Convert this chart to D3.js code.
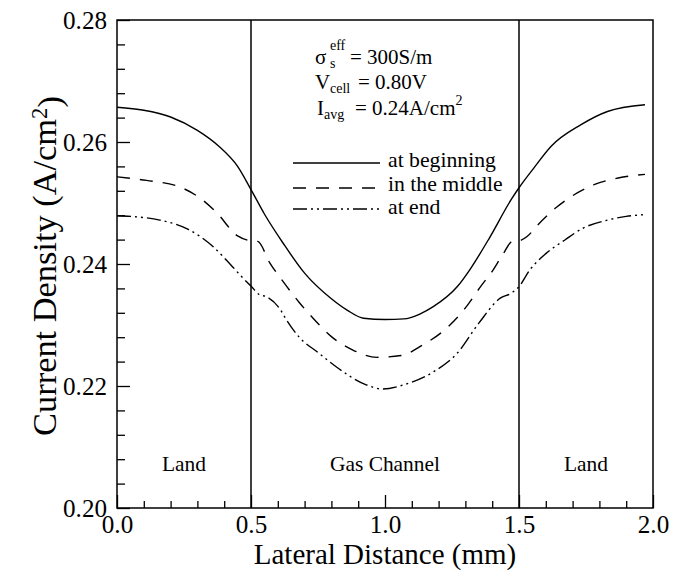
<!DOCTYPE html>
<html>
<head>
<meta charset="utf-8">
<script src="https://cdn.jsdelivr.net/npm/d3@7/dist/d3.min.js"></script>
<style>
  html, body { margin: 0; padding: 0; background: #fff; }
  svg { display: block; }
  svg text { font-family: "Liberation Serif", "Noto Serif", "DejaVu Serif", FreeSerif, Tinos, "Times New Roman", serif !important; fill: #000; }
</style>
</head>
<body>
<svg id="chart" width="675" height="571"></svg>
<script>
// ---- data ----
const seriesNames = ["at beginning", "in the middle", "at end"];

const beginX = [0.00,0.10,0.20,0.30,0.38,0.45,0.50,0.55,0.62,0.70,0.80,0.86,0.92,1.00,1.07,1.13,1.18,1.27,1.32,1.39,1.47,1.50,1.56,1.62,1.73,1.83,1.97];
const beginY = [0.2657,0.2652,0.2641,0.2619,0.2593,0.2560,0.2522,0.2482,0.2434,0.2385,0.2343,0.2324,0.2311,0.2309,0.2310,0.2318,0.2330,0.2363,0.2393,0.2443,0.2505,0.2525,0.2560,0.2593,0.2628,0.2650,0.2661];

const middleX = [0.00,0.11,0.23,0.31,0.37,0.45,0.50,0.525,0.57,0.62,0.68,0.73,0.80,0.88,0.97,1.06,1.14,1.23,1.30,1.36,1.40,1.44,1.475,1.50,1.53,1.57,1.64,1.70,1.78,1.87,1.97];
const middleY = [0.2543,0.2537,0.2527,0.2508,0.2485,0.2446,0.2438,0.2437,0.2402,0.2371,0.2337,0.2312,0.2281,0.2259,0.2247,0.2250,0.2267,0.2295,0.2328,0.2365,0.2388,0.2416,0.2437,0.2438,0.2445,0.2464,0.2493,0.2512,0.2530,0.2541,0.2547];

const endX = [0.00,0.05,0.16,0.26,0.36,0.43,0.49,0.50,0.53,0.56,0.61,0.63,0.68,0.75,0.81,0.93,0.99,1.07,1.18,1.27,1.35,1.43,1.47,1.50,1.54,1.60,1.67,1.74,1.83,1.90,1.97];
const endY = [0.2479,0.2478,0.2472,0.2458,0.2428,0.2396,0.2368,0.2364,0.2350,0.2346,0.2325,0.2310,0.2280,0.2255,0.2234,0.2202,0.2195,0.2202,0.2223,0.2254,0.2303,0.2344,0.2352,0.2363,0.2390,0.2417,0.2439,0.2459,0.2472,0.2478,0.2481];

const xTicks = [0.0, 0.5, 1.0, 1.5, 2.0];
const yTicks = [0.20, 0.22, 0.24, 0.26, 0.28];
const dividers = [0.5, 1.5];
const regionLabels = ["Land", "Gas Channel", "Land"];
const regionCenters = [0.25, 1.0, 1.75];

// ---- layout ----
const L = 117, R = 653, T = 20, B = 508;
const svg = d3.select("#chart");
const x = d3.scaleLinear().domain([0, 2]).range([L, R]);
const y = d3.scaleLinear().domain([0.20, 0.28]).range([B, T]);

// size a text so its advance width matches the width measured on the reference
function fitSize(sel, target, base) {
  sel.style("font-size", base + "px");
  const w = sel.node().getComputedTextLength();
  const s = w > 0 ? base * target / w : base;
  return Math.min(s, base * 1.3);
}

const xMinor = d3.range(0, 2.0001, 0.1).map(v => +v.toFixed(2)).filter(v => !xTicks.includes(v));
const yMinor = d3.range(0.20, 0.28001, 0.004).map(v => +v.toFixed(3)).filter(v => !yTicks.some(t => Math.abs(t - v) < 1e-6));

// frame
svg.append("rect").attr("x", L).attr("y", T).attr("width", R - L).attr("height", B - T)
  .attr("fill", "none").attr("stroke", "#000").attr("stroke-width", 1.5);

// axes
function styleAxis(g) {
  g.attr("font-family", null).attr("font-size", null);
  g.select(".domain").remove();
  g.selectAll(".tick line").attr("stroke", "#000").attr("stroke-width", 1.3);
}
svg.append("g").attr("transform", `translate(${L},0)`)
  .call(d3.axisLeft(y).tickValues(yMinor).tickSize(-8).tickFormat(""))
  .call(styleAxis);
const yAx = svg.append("g").attr("transform", `translate(${L},0)`)
  .call(d3.axisLeft(y).tickValues(yTicks).tickSize(-13).tickPadding(10).tickFormat(d3.format(".2f")))
  .call(styleAxis);
const yTickSize = fitSize(yAx.select(".tick text"), 44, 24);
yAx.selectAll("text").style("font-size", yTickSize + "px");

svg.append("g").attr("transform", `translate(0,${B})`)
  .call(d3.axisBottom(x).tickValues(xMinor).tickSize(-7).tickFormat(""))
  .call(styleAxis);
const xAx = svg.append("g").attr("transform", `translate(0,${B})`)
  .call(d3.axisBottom(x).tickValues(xTicks).tickSize(-13).tickPadding(7).tickFormat(d3.format(".1f")))
  .call(styleAxis);
xAx.selectAll("text").style("font-size", yTickSize + "px");

// divider lines
svg.selectAll(".divider").data(dividers).join("line")
  .attr("x1", d => x(d)).attr("x2", d => x(d)).attr("y1", T).attr("y2", B)
  .attr("stroke", "#000").attr("stroke-width", 1.5);

// curves
const series = [
  { name: seriesNames[0], xs: beginX, ys: beginY, dash: null },
  { name: seriesNames[1], xs: middleX, ys: middleY, dash: "13,10" },
  { name: seriesNames[2], xs: endX, ys: endY, dash: "14,4,2,4,2,4" }
];
const line = d3.line().x(d => x(d[0])).y(d => y(d[1])).curve(d3.curveMonotoneX);
series.forEach(s => {
  svg.append("path").datum(s.xs.map((v, i) => [v, s.ys[i]]))
    .attr("d", line).attr("fill", "none").attr("stroke", "#000")
    .attr("stroke-width", 1.4).attr("stroke-dasharray", s.dash);
});

// legend
const legY = [163, 188, 209];
const legTextY = [167, 191, 214];
const legTexts = [];
series.forEach((s, i) => {
  svg.append("line").attr("x1", 293).attr("x2", 380).attr("y1", legY[i]).attr("y2", legY[i])
    .attr("stroke", "#000").attr("stroke-width", 1.4).attr("stroke-dasharray", s.dash);
  legTexts.push(svg.append("text").attr("x", 388).attr("y", legTextY[i]).text(s.name));
});
const legSize = fitSize(legTexts[0], 108, 22);
legTexts.forEach(t => t.style("font-size", legSize + "px"));

// annotations
const ann = svg.append("g");
const a1 = ann.append("text").attr("x", 350).attr("y", 64).text("= 300S/m");
const annSize = Math.min(fitSize(a1, 93, 22), 21);
const subSize = 14;
a1.style("font-size", annSize + "px");
ann.append("text").attr("x", 315).attr("y", 64).style("font-size", annSize + "px").text("σ");
ann.append("text").attr("x", 330).attr("y", 50).style("font-size", subSize + "px").text("eff");
ann.append("text").attr("x", 330).attr("y", 68).style("font-size", subSize + "px").text("s");

ann.append("text").attr("x", 315).attr("y", 89).style("font-size", annSize + "px").text("V");
ann.append("text").attr("x", 330).attr("y", 93).style("font-size", subSize + "px").text("cell");
ann.append("text").attr("x", 358).attr("y", 89).style("font-size", annSize + "px").text("= 0.80V");

ann.append("text").attr("x", 317).attr("y", 115).style("font-size", annSize + "px").text("I");
ann.append("text").attr("x", 324).attr("y", 119).style("font-size", subSize + "px").text("avg");
const t3 = ann.append("text").attr("x", 355).attr("y", 115).style("font-size", annSize + "px");
t3.append("tspan").text("= 0.24A/cm");
t3.append("tspan").attr("dy", -10).style("font-size", subSize + "px").text("2");

// region labels
const regs = svg.selectAll(".region").data(regionLabels).join("text")
  .attr("class", "region")
  .attr("x", (d, i) => x(regionCenters[i])).attr("y", 471)
  .attr("text-anchor", "middle").text(d => d);
const regSize = fitSize(d3.select(regs.nodes()[0]), 44, 21);
regs.style("font-size", regSize + "px");

// axis titles
const xt = svg.append("text").attr("x", (L + R) / 2).attr("y", 564).attr("text-anchor", "middle")
  .text("Lateral Distance (mm)");
xt.style("font-size", Math.min(fitSize(xt, 288, 30), 29) + "px");

const yt = svg.append("text").attr("transform", `translate(56,${(T + B) / 2 + 2}) rotate(-90)`)
  .attr("text-anchor", "middle");
yt.append("tspan").text("Current Density (A/cm");
yt.append("tspan").attr("dy", "-0.4em").style("font-size", "0.66em").text("2");
yt.append("tspan").attr("dy", "0.4em").text(")");
yt.style("font-size", fitSize(yt, 340, 33) + "px");
</script>
</body>
</html>
